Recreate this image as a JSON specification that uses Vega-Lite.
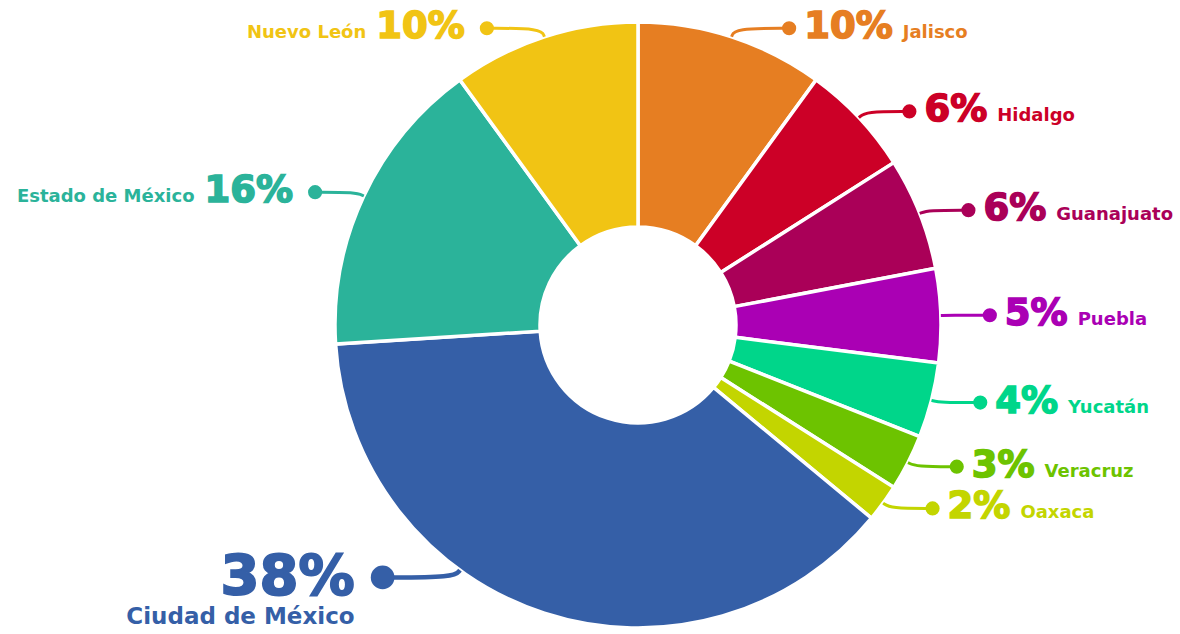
{
  "$schema": "https://vega.github.io/schema/vega-lite/v6.json",
  "width": 1084,
  "height": 618,
  "autosize": {"type": "none"},
  "padding": {"left": 96, "top": 16, "right": 0, "bottom": 0},
  "background": "#ffffff",
  "config": {"view": {"stroke": null}, "text": {"font": "DejaVu Sans", "fontWeight": "bold"}},
  "data": {
    "values": [
      {"name": "Jalisco", "value": 10},
      {"name": "Hidalgo", "value": 6},
      {"name": "Guanajuato", "value": 6},
      {"name": "Puebla", "value": 5},
      {"name": "Yucatán", "value": 4},
      {"name": "Veracruz", "value": 3},
      {"name": "Oaxaca", "value": 2},
      {"name": "Ciudad de México", "value": 38},
      {"name": "Estado de México", "value": 16},
      {"name": "Nuevo León", "value": 10}
    ]
  },
  "transform": [
    {"window": [{"op": "sum", "field": "value", "as": "cum"}], "frame": [null, 0]},
    {"calculate": "datum.cum - datum.value", "as": "start"},
    {"calculate": "(datum.cum - datum.value / 2) * 3.6", "as": "md"},
    {"calculate": "(datum.md > 144 && datum.md < 216) ? (datum.md < 180 ? 144 : 216) : datum.md", "as": "ld"},
    {"calculate": "datum.ld * PI / 180", "as": "a"},
    {"calculate": "sin(datum.a) >= 0 ? 1 : -1", "as": "side"},
    {"calculate": "datum.value >= 30", "as": "big"},
    {"calculate": "303 * sin(datum.a)", "as": "p0x"},
    {"calculate": "303 * cos(datum.a)", "as": "p0y"},
    {"calculate": "312 * sin(datum.a)", "as": "p1x"},
    {"calculate": "312 * cos(datum.a)", "as": "p1y"},
    {"calculate": "datum.p1x + datum.side * (datum.big ? 72 : 40 + 18 * pow(cos(datum.a), 4))", "as": "p2x"},
    {"calculate": "datum.p1y", "as": "p2y"},
    {"calculate": "datum.value + '%'", "as": "pct"},
    {"calculate": "(length(toString(datum.value)) * 0.696 + 1.002) * 37 + 2", "as": "pw"},
    {"calculate": "datum.big ? datum.p2x - 28 : datum.p2x + (datum.side > 0 ? 15 : -22)", "as": "tx"},
    {"calculate": "datum.big ? datum.p2y - 17 : datum.p2y - 10", "as": "ty"},
    {"calculate": "datum.big ? datum.p2x - 28 : datum.tx + datum.side * (datum.pw + 8)", "as": "nx"},
    {"calculate": "datum.big ? datum.p2y - 47 : datum.ty", "as": "ny"}
  ],
  "encoding": {
    "color": {
      "field": "name",
      "type": "nominal",
      "legend": null,
      "scale": {
        "domain": ["Jalisco", "Hidalgo", "Guanajuato", "Puebla", "Yucatán", "Veracruz", "Oaxaca", "Ciudad de México", "Estado de México", "Nuevo León"],
        "range": ["#E67E22", "#CC0027", "#AA0058", "#AA00B4", "#00D68A", "#6DC300", "#C3D500", "#355FA7", "#2BB39A", "#F1C414"]
      }
    }
  },
  "layer": [
    {
      "mark": {"type": "arc", "outerRadius": 303, "innerRadius": 98, "stroke": "#ffffff", "strokeWidth": 3.5},
      "encoding": {
        "theta": {"field": "start", "type": "quantitative", "stack": null, "scale": {"domain": [0, 100]}},
        "theta2": {"field": "cum"}
      }
    },
    {
      "transform": [
        {"fold": ["p0x", "p1x", "p2x"], "as": ["k", "lx"]},
        {"calculate": "datum.k === 'p0x' ? datum.p0y : (datum.k === 'p1x' ? datum.p1y : datum.p2y)", "as": "ly"}
      ],
      "mark": {"type": "line", "interpolate": "basis"},
      "encoding": {
        "x": {"field": "lx", "type": "quantitative", "axis": null, "scale": {"domain": [-542, 542], "nice": false, "zero": false}},
        "y": {"field": "ly", "type": "quantitative", "axis": null, "scale": {"domain": [-309, 309], "nice": false, "zero": false}},
        "order": {"field": "k", "type": "ordinal"},
        "strokeWidth": {"condition": {"test": "datum.big", "value": 4.5}, "value": 3}
      }
    },
    {
      "mark": {"type": "point", "filled": true, "opacity": 1},
      "encoding": {
        "x": {"field": "p2x", "type": "quantitative", "axis": null, "scale": {"domain": [-542, 542], "nice": false, "zero": false}},
        "y": {"field": "p2y", "type": "quantitative", "axis": null, "scale": {"domain": [-309, 309], "nice": false, "zero": false}},
        "size": {"condition": {"test": "datum.big", "value": 560}, "value": 200}
      }
    },
    {
      "transform": [{"filter": "!datum.big && datum.side > 0"}],
      "mark": {"type": "text", "align": "left", "baseline": "alphabetic", "fontSize": 37, "strokeWidth": 1.6},
      "encoding": {
        "x": {"field": "tx", "type": "quantitative", "axis": null, "scale": {"domain": [-542, 542], "nice": false, "zero": false}},
        "y": {"field": "ty", "type": "quantitative", "axis": null, "scale": {"domain": [-309, 309], "nice": false, "zero": false}},
        "stroke": {"field": "name", "type": "nominal", "legend": null, "scale": {"domain": ["Jalisco", "Hidalgo", "Guanajuato", "Puebla", "Yucatán", "Veracruz", "Oaxaca", "Ciudad de México", "Estado de México", "Nuevo León"], "range": ["#E67E22", "#CC0027", "#AA0058", "#AA00B4", "#00D68A", "#6DC300", "#C3D500", "#355FA7", "#2BB39A", "#F1C414"]}},
        "text": {"field": "pct"}
      }
    },
    {
      "transform": [{"filter": "!datum.big && datum.side > 0"}],
      "mark": {"type": "text", "align": "left", "baseline": "alphabetic", "fontSize": 18},
      "encoding": {
        "x": {"field": "nx", "type": "quantitative", "axis": null, "scale": {"domain": [-542, 542], "nice": false, "zero": false}},
        "y": {"field": "ny", "type": "quantitative", "axis": null, "scale": {"domain": [-309, 309], "nice": false, "zero": false}},
        "text": {"field": "name"}
      }
    },
    {
      "transform": [{"filter": "!datum.big && datum.side < 0"}],
      "mark": {"type": "text", "align": "right", "baseline": "alphabetic", "fontSize": 37, "strokeWidth": 1.6},
      "encoding": {
        "x": {"field": "tx", "type": "quantitative", "axis": null, "scale": {"domain": [-542, 542], "nice": false, "zero": false}},
        "y": {"field": "ty", "type": "quantitative", "axis": null, "scale": {"domain": [-309, 309], "nice": false, "zero": false}},
        "stroke": {"field": "name", "type": "nominal", "legend": null, "scale": {"domain": ["Jalisco", "Hidalgo", "Guanajuato", "Puebla", "Yucatán", "Veracruz", "Oaxaca", "Ciudad de México", "Estado de México", "Nuevo León"], "range": ["#E67E22", "#CC0027", "#AA0058", "#AA00B4", "#00D68A", "#6DC300", "#C3D500", "#355FA7", "#2BB39A", "#F1C414"]}},
        "text": {"field": "pct"}
      }
    },
    {
      "transform": [{"filter": "!datum.big && datum.side < 0"}],
      "mark": {"type": "text", "align": "right", "baseline": "alphabetic", "fontSize": 18},
      "encoding": {
        "x": {"field": "nx", "type": "quantitative", "axis": null, "scale": {"domain": [-542, 542], "nice": false, "zero": false}},
        "y": {"field": "ny", "type": "quantitative", "axis": null, "scale": {"domain": [-309, 309], "nice": false, "zero": false}},
        "text": {"field": "name"}
      }
    },
    {
      "transform": [{"filter": "datum.big"}],
      "mark": {"type": "text", "align": "right", "baseline": "alphabetic", "fontSize": 56, "strokeWidth": 2},
      "encoding": {
        "x": {"field": "tx", "type": "quantitative", "axis": null, "scale": {"domain": [-542, 542], "nice": false, "zero": false}},
        "y": {"field": "ty", "type": "quantitative", "axis": null, "scale": {"domain": [-309, 309], "nice": false, "zero": false}},
        "stroke": {"field": "name", "type": "nominal", "legend": null, "scale": {"domain": ["Jalisco", "Hidalgo", "Guanajuato", "Puebla", "Yucatán", "Veracruz", "Oaxaca", "Ciudad de México", "Estado de México", "Nuevo León"], "range": ["#E67E22", "#CC0027", "#AA0058", "#AA00B4", "#00D68A", "#6DC300", "#C3D500", "#355FA7", "#2BB39A", "#F1C414"]}},
        "text": {"field": "pct"}
      }
    },
    {
      "transform": [{"filter": "datum.big"}],
      "mark": {"type": "text", "align": "right", "baseline": "alphabetic", "fontSize": 23},
      "encoding": {
        "x": {"field": "nx", "type": "quantitative", "axis": null, "scale": {"domain": [-542, 542], "nice": false, "zero": false}},
        "y": {"field": "ny", "type": "quantitative", "axis": null, "scale": {"domain": [-309, 309], "nice": false, "zero": false}},
        "text": {"field": "name"}
      }
    }
  ]
}
